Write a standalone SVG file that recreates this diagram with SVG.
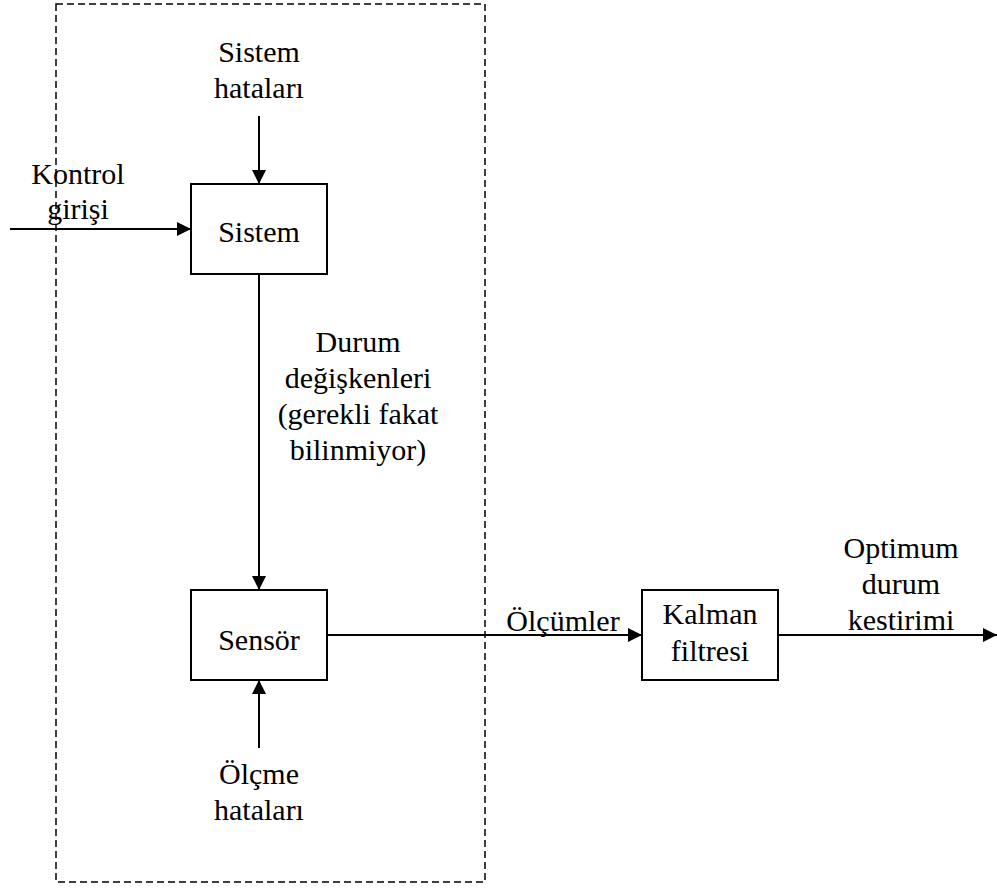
<svg xmlns="http://www.w3.org/2000/svg" width="997" height="888" viewBox="0 0 997 888">
<style>
text{font-family:'Liberation Serif', 'Times New Roman', Times, serif;font-size:30px;fill:#000;text-anchor:middle}
.box{fill:#fff;stroke:#000;stroke-width:2}
.ln{stroke:#000;stroke-width:2;fill:none}
</style>
<defs>
<marker id="ah" markerWidth="14" markerHeight="14" refX="14" refY="7" orient="auto" markerUnits="userSpaceOnUse">
<path d="M0,0 L14,7 L0,14 Z" fill="#000"/>
</marker>
</defs>
<rect x="0" y="0" width="997" height="888" fill="#fff"/>
<rect id="boundary" x="56" y="4" width="429" height="878" fill="none" stroke="#000" stroke-width="1.5" stroke-dasharray="7,4"/>
<g id="connectors">
<line class="ln" x1="10" y1="229" x2="191" y2="229" marker-end="url(#ah)"/>
<line class="ln" x1="259" y1="116" x2="259" y2="184" marker-end="url(#ah)"/>
<line class="ln" x1="259" y1="274" x2="259" y2="590" marker-end="url(#ah)"/>
<line class="ln" x1="259" y1="748" x2="259" y2="680" marker-end="url(#ah)"/>
<line class="ln" x1="327" y1="635" x2="642" y2="635" marker-end="url(#ah)"/>
<line class="ln" x1="778" y1="635" x2="997" y2="635" marker-end="url(#ah)"/>
</g>
<g id="sistem">
<rect class="box" x="191" y="184" width="136" height="90"/>
<text x="259" y="242">Sistem</text>
</g>
<g id="sensor">
<rect class="box" x="191" y="590" width="136" height="90"/>
<text x="259" y="650">Sensör</text>
</g>
<g id="kalman">
<rect class="box" x="642" y="590" width="136" height="90"/>
<text x="710" y="624">Kalman</text>
<text x="710" y="661">filtresi</text>
</g>
<g id="labels">
<text x="259" y="62">Sistem</text>
<text x="259" y="98">hataları</text>
<text x="78" y="184">Kontrol</text>
<text x="78" y="219">girişi</text>
<text x="358" y="352">Durum</text>
<text x="358" y="388">değişkenleri</text>
<text x="358" y="424">(gerekli fakat</text>
<text x="358" y="460">bilinmiyor)</text>
<text x="259" y="784">Ölçme</text>
<text x="259" y="820">hataları</text>
<text x="563" y="631">Ölçümler</text>
<text x="901" y="558">Optimum</text>
<text x="901" y="594">durum</text>
<text x="901" y="630">kestirimi</text>
</g>
</svg>
